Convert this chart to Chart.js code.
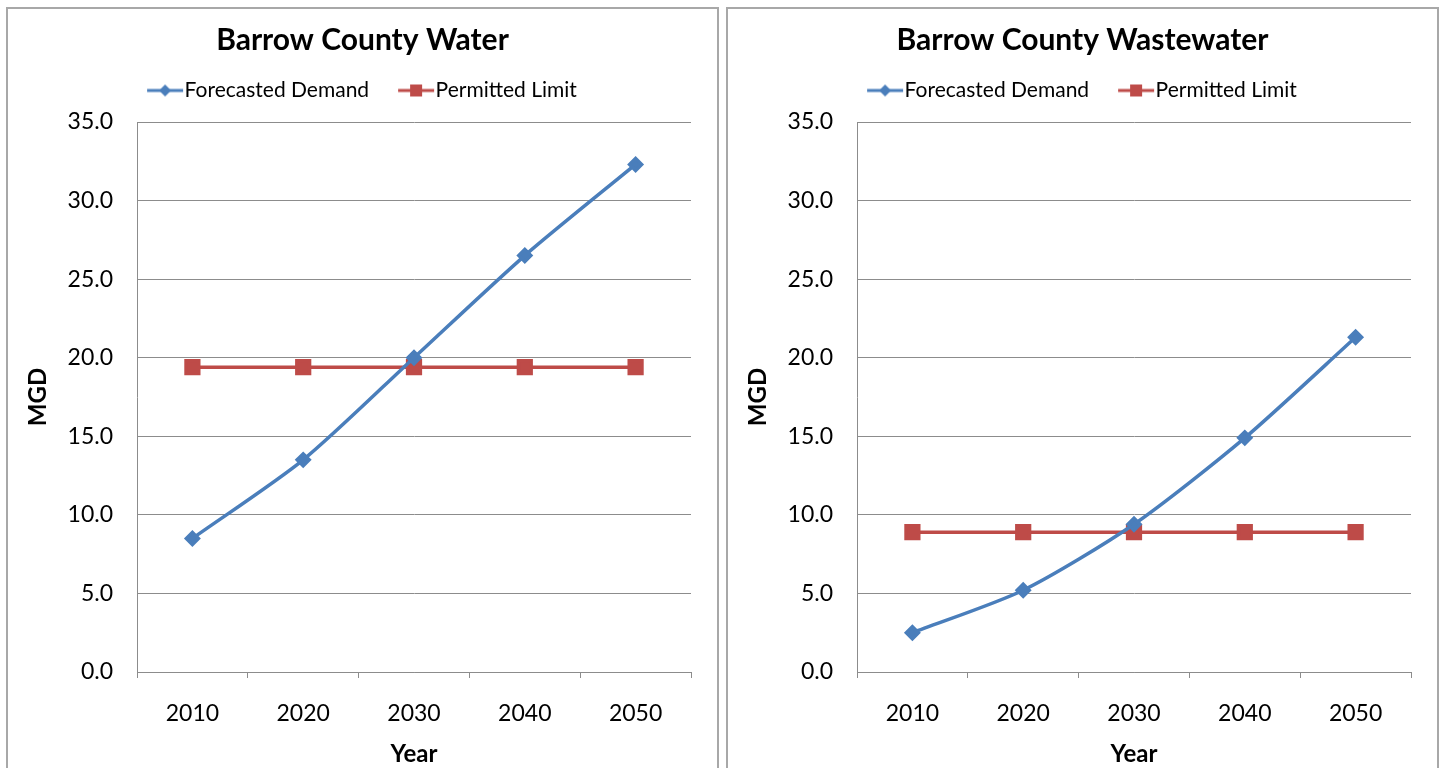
<!DOCTYPE html>
<html>
<head>
<meta charset="utf-8">
<script src="https://cdn.jsdelivr.net/npm/chart.js@4/dist/chart.umd.min.js"></script>
<style>
  body { margin: 0; background: #fff; width: 1442px; height: 768px; overflow: hidden; position: relative; }
  .box { position: absolute; top: 7px; width: 709px; height: 800px; border: 2px solid #a8a8a8; background: #fff; }
  #boxWater { left: 6px; }
  #boxWaste { left: 726px; }
  canvas { position: absolute; left: 0; top: 0; }
</style>
</head>
<body>
<div class="box" id="boxWater"><canvas id="waterChart" width="709" height="760"></canvas></div>
<div class="box" id="boxWaste"><canvas id="wasteChart" width="709" height="760"></canvas></div>
<script>
// values (MGD)
var years = ['2010', '2020', '2030', '2040', '2050'];
var waterDemand = [8.5, 13.5, 20.0, 26.5, 32.3];
var waterLimit = [19.4, 19.4, 19.4, 19.4, 19.4];
var wasteDemand = [2.5, 5.2, 9.4, 14.9, 21.3];
var wasteLimit = [8.9, 8.9, 8.9, 8.9, 8.9];
var yMin = 0, yMax = 35, yStep = 5;

var FONT = "Lato, 'Open Sans', sans-serif";
var BLUE = '#4A7EBB';
var RED = '#BE4B48';
var GRID = '#8c8c8c';

// line + marker picture for the legend (left part left transparent so the
// visible symbol starts where the legend item starts)
function legendIcon(color, style) {
    var c = document.createElement('canvas');
    c.width = 52; c.height = 16;
    var g = c.getContext('2d');
    g.strokeStyle = color;
    g.lineWidth = 3;
    g.beginPath();
    g.moveTo(12, 8); g.lineTo(48, 8);
    g.stroke();
    g.fillStyle = color;
    g.beginPath();
    if (style === 'rectRot') {
        g.moveTo(30, 2); g.lineTo(36, 8); g.lineTo(30, 14); g.lineTo(24, 8);
    } else {
        g.rect(24, 2, 12, 12);
    }
    g.fill();
    return c;
}

function makeChart(id, title, demand, limit) {
    var ctx = document.getElementById(id).getContext('2d');
    return new Chart(ctx, {
        type: 'line',
        data: {
            labels: years,
            datasets: [{
                label: 'Forecasted Demand',
                data: demand,
                borderColor: BLUE,
                backgroundColor: BLUE,
                borderWidth: 3.5,
                pointStyle: 'rectRot',
                pointRadius: 6,
                pointHoverRadius: 6,
                tension: 0.25,
                fill: false
            }, {
                label: 'Permitted Limit',
                data: limit,
                borderColor: RED,
                backgroundColor: RED,
                borderWidth: 3.5,
                pointStyle: 'rect',
                pointRadius: 9,
                pointHoverRadius: 9,
                fill: false
            }]
        },
        options: {
            responsive: false,
            animation: false,
            layout: { padding: 0 },
            plugins: {
                tooltip: { enabled: false },
                title: {
                    display: true,
                    text: title,
                    color: '#000',
                    font: { family: FONT, size: 30, weight: 'bold' },
                    padding: { top: 13, bottom: -8 }
                },
                legend: {
                    display: true,
                    labels: {
                        color: '#000',
                        font: { family: FONT, size: 21 },
                        usePointStyle: true,
                        pointStyleWidth: 26,
                        padding: 30,
                        generateLabels: function(chart) {
                            return chart.data.datasets.map(function(ds, i) {
                                return {
                                    text: ds.label,
                                    datasetIndex: i,
                                    fontColor: '#000',
                                    lineWidth: 0,
                                    strokeStyle: ds.borderColor,
                                    fillStyle: ds.backgroundColor,
                                    pointStyle: legendIcon(ds.borderColor, ds.pointStyle)
                                };
                            });
                        }
                    }
                }
            },
            scales: {
                x: {
                    offset: true,
                    grid: { drawOnChartArea: false, drawTicks: true, tickLength: 6, offset: true, color: GRID },
                    border: { color: GRID },
                    ticks: { color: '#000', font: { family: FONT, size: 23 }, padding: 22, maxRotation: 0 },
                    title: {
                        display: true, text: 'Year', color: '#000',
                        font: { family: FONT, size: 24, weight: 'bold' },
                        padding: { top: 0, bottom: 0 }
                    },
                    afterFit: function(s) { s.height = 97; }
                },
                y: {
                    min: yMin, max: yMax,
                    grid: { drawTicks: false, color: GRID },
                    border: { color: GRID },
                    ticks: {
                        stepSize: yStep, color: '#000', padding: 24,
                        font: { family: FONT, size: 23 },
                        callback: function(v) { return v.toFixed(1); }
                    },
                    title: {
                        display: true, text: 'MGD', color: '#000',
                        font: { family: FONT, size: 24, weight: 'bold' },
                        padding: { top: 16, bottom: 0 }
                    },
                    afterFit: function(s) { s.width = 129; }
                },
                // empty spacer scales to place the plot area
                gap: {
                    position: 'right',
                    display: true,
                    grid: { display: false },
                    border: { display: false },
                    ticks: { display: false },
                    afterFit: function(s) { s.width = 26; }
                },
                gapTop: {
                    position: 'top',
                    display: true,
                    grid: { display: false },
                    border: { display: false },
                    ticks: { display: false },
                    afterFit: function(s) { s.height = 11; }
                }
            }
        }
    });
}

makeChart('waterChart', 'Barrow County Water', waterDemand, waterLimit);
makeChart('wasteChart', 'Barrow County Wastewater', wasteDemand, wasteLimit);
</script>
</body>
</html>
